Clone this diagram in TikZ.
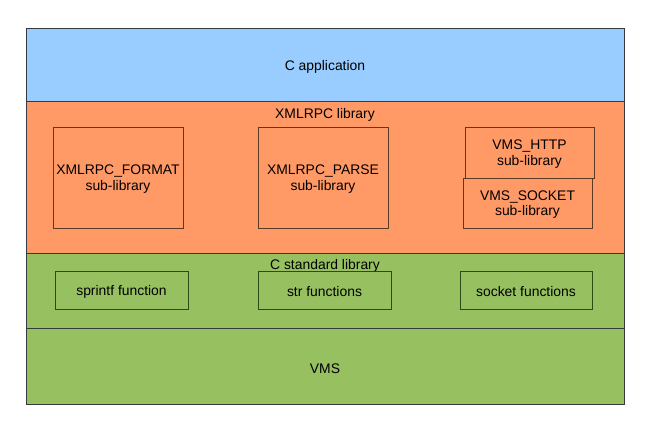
\documentclass[tikz,border=0pt]{standalone}
\usepackage{fontspec}
\setmainfont{Liberation Sans}
\usetikzlibrary{positioning}

\definecolor{appblue}{RGB}{153,204,255}
\definecolor{liborange}{RGB}{255,153,102}
\definecolor{stdgreen}{RGB}{151,193,96}
\definecolor{edgedark}{RGB}{54,57,61}
\definecolor{edgebrown}{RGB}{90,58,35}
\definecolor{edgegreen}{RGB}{45,75,20}

\tikzset{
    layer/.style={draw=edgedark, line width=1pt, minimum width=598pt, inner sep=0pt},
    sublib/.style={draw=edgebrown, line width=0.8pt, align=center, inner sep=0pt},
    func/.style={draw=edgegreen, line width=0.8pt, minimum height=38pt, minimum width=133pt, inner sep=0pt},
    txt/.style={yshift=-1.5pt}
}

\begin{document}
\begin{tikzpicture}[x=1pt,y=-1pt,font=\fontsize{13.9}{15.8}\selectfont]
    \useasboundingbox (0,0) rectangle (648,435);

    \node[layer,fill=appblue,minimum height=73pt] (app) at (325,65.5) {};
    \node[layer,fill=liborange,minimum height=152pt] (xmlrpc) at (325,178) {};
    \node[layer,fill=stdgreen,minimum height=75pt] (cstd) at (325,291.5) {};
    \node[layer,fill=stdgreen,minimum height=76pt] (vms) at (325,367) {};

    \node[txt] (apptitle) at (app.center) {C application};
    \node[txt] (vmstitle) at (vms.center) {VMS};
    \node[txt] (xmlrpctitle) at (325,113) {XMLRPC library};
    \node[txt] (cstdtitle) at (325,264) {C standard library};

    \node[sublib,minimum width=130pt,minimum height=101pt] (format) at (118,177.5) {};
    \node[sublib,minimum width=130pt,minimum height=101pt] (parse) at (323,177.5) {};
    \node[sublib,minimum width=129pt,minimum height=51pt] (http) at (529.5,152.5) {};
    \node[sublib,minimum width=129pt,minimum height=50pt] (socketlib) at (527.5,203) {};
    \node[txt,align=center] at (format.center) {XMLRPC\_FORMAT\\sub-library};
    \node[txt,align=center] at (parse.center) {XMLRPC\_PARSE\\sub-library};
    \node[txt,align=center] at (http.center) {VMS\_HTTP\\sub-library};
    \node[txt,align=center] at (socketlib.center) {VMS\_SOCKET\\sub-library};

    \node[func] (sprintf) at (121.5,290) {};
    \node[func] (str) at (324.5,290) {};
    \node[func,minimum width=132pt] (socket) at (526,290) {};
    \node[txt] at (sprintf.center) {sprintf function};
    \node[txt] at (str.center) {str functions};
    \node[txt] at (socket.center) {socket functions};
\end{tikzpicture}
\end{document}
